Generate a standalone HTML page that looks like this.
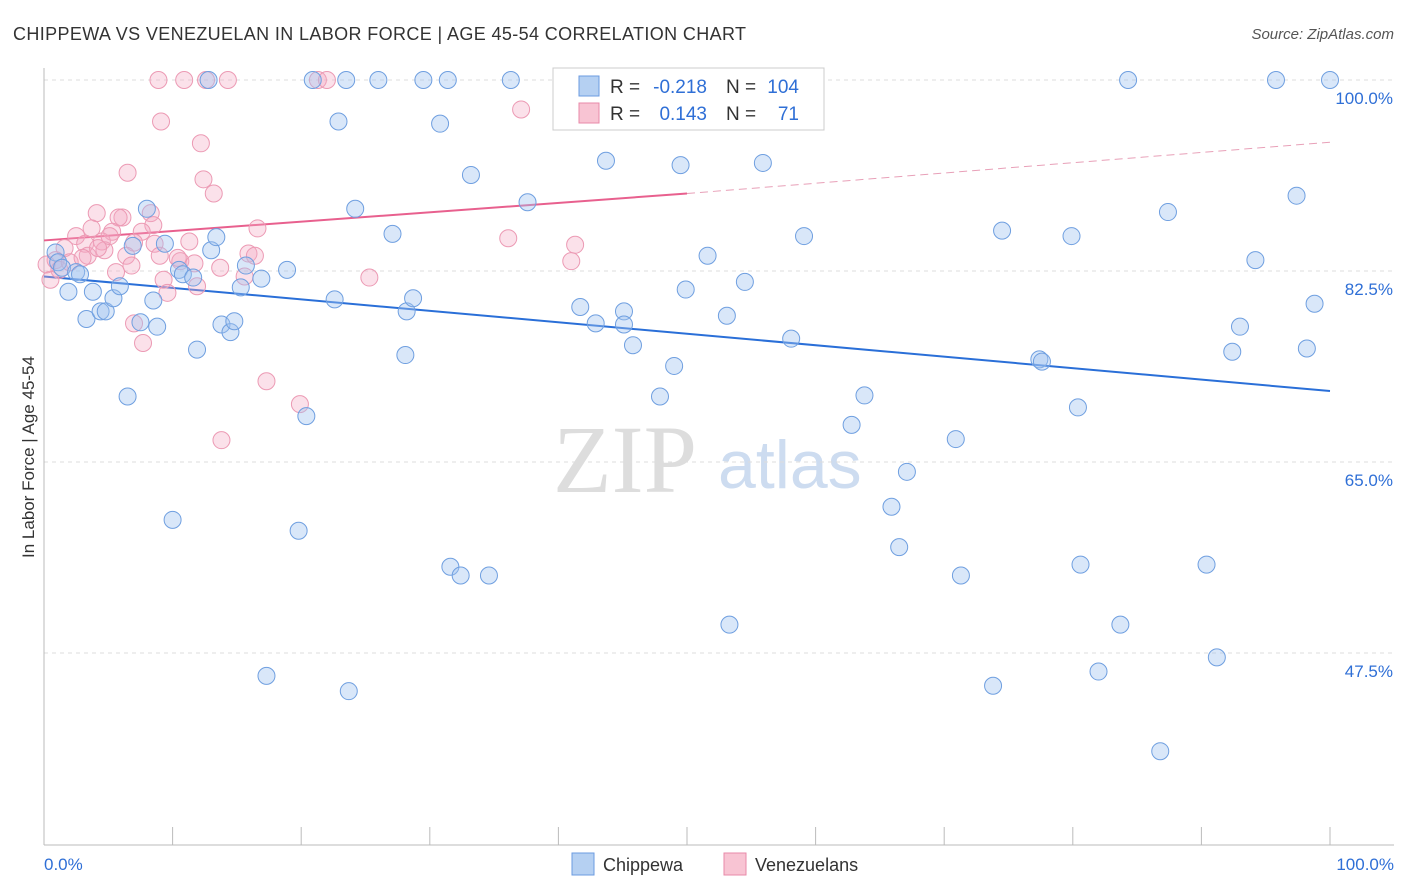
<!DOCTYPE html>
<html><head><meta charset="utf-8">
<style>
body{margin:0;background:#fff;font-family:"Liberation Sans",sans-serif;}
svg{display:block}
</style></head>
<body>
<svg id="chart" width="1406" height="892">
<text x="13" y="40" font-size="18" fill="#333" textLength="733" lengthAdjust="spacing">CHIPPEWA VS VENEZUELAN IN LABOR FORCE | AGE 45-54 CORRELATION CHART</text>
<text x="1394" y="39" font-size="15" fill="#555" text-anchor="end" font-style="italic">Source: ZipAtlas.com</text>
<text transform="translate(34,457) rotate(-90)" font-size="17" fill="#333" text-anchor="middle">In Labor Force | Age 45-54</text>
<g>
<text x="553" y="492" font-size="96" font-family="Liberation Serif,serif" fill="#ddd">ZIP</text>
<text x="718" y="488" font-size="68" fill="#cddcf0">atlas</text>
</g>
<g id="grid"></g><g id="axes"></g><g id="trends"></g><g id="pts"></g>
<g>
<rect x="553" y="68" width="271" height="62" fill="#fff" stroke="#ccc"/>
<rect x="579" y="76" width="20" height="20" fill="#b5d0f2" stroke="#6b9be0"/>
<rect x="579" y="103" width="20" height="20" fill="#f8c4d3" stroke="#e88aa8"/>
<text x="610" y="93" font-size="19" fill="#333">R =</text>
<text x="707" y="93" font-size="19" fill="#2f6fd6" text-anchor="end">-0.218</text>
<text x="726" y="93" font-size="19" fill="#333">N =</text>
<text x="799" y="93" font-size="19" fill="#2f6fd6" text-anchor="end">104</text>
<text x="610" y="120" font-size="19" fill="#333">R =</text>
<text x="707" y="120" font-size="19" fill="#2f6fd6" text-anchor="end">0.143</text>
<text x="726" y="120" font-size="19" fill="#333">N =</text>
<text x="799" y="120" font-size="19" fill="#2f6fd6" text-anchor="end">71</text>
</g>
<g>
<rect x="572" y="853" width="22" height="22" fill="#b5d0f2" stroke="#6b9be0"/>
<text x="603" y="871" font-size="18" fill="#333">Chippewa</text>
<rect x="724" y="853" width="22" height="22" fill="#f8c4d3" stroke="#e88aa8"/>
<text x="755" y="871" font-size="18" fill="#333">Venezuelans</text>
</g>
</svg>
<script>
const yTicks=[100,82.5,65,47.5];
const yTickLabels=["100.0%","82.5%","65.0%","47.5%"];
const xLabels=["0.0%","100.0%"];
const blueX=[0.9,1.1,1.4,1.9,2.5,2.8,3.3,3.8,4.4,4.8,5.4,5.9,6.5,6.9,7.5,8.0,8.5,8.8,9.4,10.0,10.5,10.8,11.6,11.9,12.8,13.0,13.4,13.8,14.5,14.8,15.3,15.7,16.9,17.3,18.9,19.8,20.4,20.9,22.6,22.9,23.5,23.7,24.2,26.0,27.1,28.1,28.2,28.7,29.5,30.8,31.4,31.6,32.4,33.2,34.6,36.3,37.6,41.7,42.9,43.7,45.1,45.1,45.8,46.4,47.9,49.0,49.5,49.9,51.6,53.1,53.3,54.5,55.9,58.1,59.1,62.8,63.8,65.9,66.5,67.1,70.9,71.3,73.8,74.5,77.4,77.6,79.9,80.4,80.6,82.0,83.7,84.3,86.8,87.4,90.4,91.2,92.4,93.0,94.2,95.8,97.4,98.2,98.8,100];
const blueY=[84.2,83.3,82.8,80.6,82.4,82.2,78.1,80.6,78.8,78.8,80.0,81.1,71.0,84.8,77.8,88.2,79.8,77.4,85.0,59.7,82.6,82.2,81.9,75.3,100,84.4,85.6,77.6,76.9,77.9,81.0,83.0,81.8,45.4,82.6,58.7,69.2,100,79.9,96.2,100,44.0,88.2,100,85.9,74.8,78.8,80.0,100,96.0,100,55.4,54.6,91.3,54.6,100,88.8,79.2,77.7,92.6,78.8,77.6,75.7,100,71.0,73.8,92.2,80.8,83.9,78.4,50.1,81.5,92.4,76.3,85.7,68.4,71.1,60.9,57.2,64.1,67.1,54.6,44.5,86.2,74.4,74.2,85.7,70.0,55.6,45.8,50.1,100,38.5,87.9,55.6,47.1,75.1,77.4,83.5,100,89.4,75.4,79.5,100];
const pinkX=[8.9,10.9,12.6,14.3,21.3,22.0,37.1,9.1,12.2,6.5,12.4,13.2,8.3,4.1,6.1,5.8,8.5,3.7,2.5,5.3,7.6,16.6,11.3,1.6,3.2,4.5,4.7,7.0,8.6,15.9,36.1,41.3,3.4,6.4,9.0,10.6,11.7,13.7,6.8,5.6,15.6,9.3,25.3,41.0,11.9,9.6,7.0,7.7,17.3,19.9,13.8,0.9,1.2,0.5,2.0,3.0,4.2,5.1,10.4,16.4,0.2];
const pinkY=[100,100,100,100,100,100,97.3,96.2,94.2,91.5,90.9,89.6,87.8,87.8,87.4,87.4,86.7,86.4,85.7,86.1,86.1,86.4,85.2,84.6,85.0,85.2,84.4,85.1,85.0,84.1,85.5,84.9,83.9,83.9,83.9,83.4,83.2,82.8,83.0,82.4,82.0,81.7,81.9,83.4,81.1,80.5,77.7,75.9,72.4,70.3,67.0,83.5,82.6,81.7,83.3,83.7,84.6,85.7,83.7,83.9,83.1];
const blueTrendX=[0,100], blueTrendY=[82.0,71.5];
const pinkTrendX=[0,50,100], pinkTrendY=[85.3,89.6,94.3];
const NS="http://www.w3.org/2000/svg";
const X0=44,X1=1330,Y100=80,YK=10.914;
const sx=v=>X0+(X1-X0)*v/100;
const sy=v=>Y100+(100-v)*YK;
function mk(tag,attrs,parent){const e=document.createElementNS(NS,tag);for(const k in attrs)e.setAttribute(k,attrs[k]);parent.appendChild(e);return e;}
const grid=document.getElementById('grid'),axes=document.getElementById('axes');
yTicks.forEach((t,i)=>{
 const l=mk('line',{x1:X0,x2:1394,y1:sy(t),y2:sy(t),stroke:'#ddd','stroke-dasharray':'4,4'},grid);
 
 
 const tx=mk('text',{x:1393,y:sy(t)+24,'font-size':17,fill:'#2f6fd6','text-anchor':'end'},axes);
 tx.textContent=yTickLabels[i];
 
 
});
const ya=mk('line',{x1:X0,x2:X0,y1:68,y2:845,stroke:'#bbb'},axes);


const xa=mk('line',{x1:X0,x2:1394,y1:845,y2:845,stroke:'#bbb'},axes);


for(let i=0;i<=10;i++){
 const t=mk('line',{x1:sx(i*10),x2:sx(i*10),y1:827,y2:845,stroke:'#bbb'},axes);
 
 
}
const xl0=mk('text',{x:44,y:870,'font-size':17,fill:'#2f6fd6'},axes);xl0.textContent=xLabels[0];


const xl1=mk('text',{x:1394,y:870,'font-size':17,fill:'#2f6fd6','text-anchor':'end'},axes);xl1.textContent=xLabels[1];


const pts=document.getElementById('pts');
pinkX.forEach((x,i)=>{
 const c=mk('circle',{cx:sx(x),cy:sy(pinkY[i]),r:8.5,fill:'rgba(244,170,195,0.35)',stroke:'#ec9ab4','stroke-width':1},pts);
 
 
});
blueX.forEach((x,i)=>{
 const c=mk('circle',{cx:sx(x),cy:sy(blueY[i]),r:8.5,fill:'rgba(160,195,240,0.4)',stroke:'#6f9fe0','stroke-width':1},pts);
 
 
});
const tr=document.getElementById('trends');
const bl=mk('line',{x1:sx(blueTrendX[0]),y1:sy(blueTrendY[0]),x2:sx(blueTrendX[1]),y2:sy(blueTrendY[1]),stroke:'#2a6fd8','stroke-width':2},tr);


const pl=mk('line',{x1:sx(pinkTrendX[0]),y1:sy(pinkTrendY[0]),x2:sx(pinkTrendX[1]),y2:sy(pinkTrendY[1]),stroke:'#e8608e','stroke-width':2},tr);


const pd=mk('line',{x1:sx(pinkTrendX[1]),y1:sy(pinkTrendY[1]),x2:sx(pinkTrendX[2]),y2:sy(pinkTrendY[2]),stroke:'#e8a0b8','stroke-width':1,'stroke-dasharray':'8,5'},tr);


</script>
</body></html>
